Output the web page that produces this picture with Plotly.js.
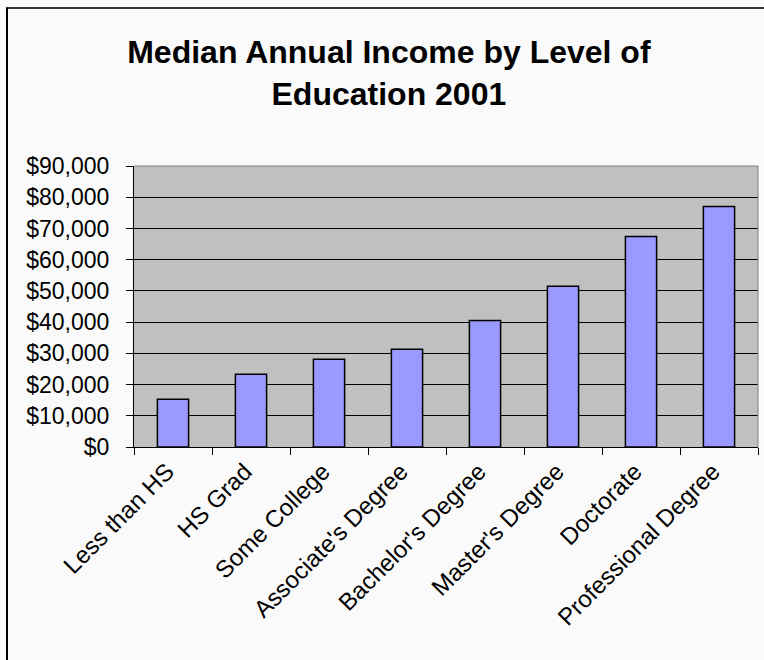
<!DOCTYPE html>
<html>
<head>
<meta charset="utf-8">
<script src="https://cdn.plot.ly/plotly-3.0.1.min.js"></script>
<style>
  html, body { margin: 0; padding: 0; background: #FAFAFA; }
  #wrap { position: relative; width: 764px; height: 660px; overflow: hidden; }
  #chart { position: absolute; left: 0; top: 0; width: 764px; height: 660px; }
  #frame { position: absolute; left: 6px; top: 7px; width: 800px; height: 700px;
           border-left: 2px solid #000; border-top: 2px solid #333; pointer-events: none; }
</style>
</head>
<body>
<div id="wrap">
  <div id="chart"></div>
  <div id="frame"></div>
</div>
<script>
const categories = ["Less than HS", "HS Grad", "Some College", "Associate's Degree",
                    "Bachelor's Degree", "Master's Degree", "Doctorate", "Professional Degree"];
const medianIncome = [15300, 23300, 28100, 31300, 40500, 51500, 67400, 77000];
const yTickVals = [0, 10000, 20000, 30000, 40000, 50000, 60000, 70000, 80000, 90000];
const yTickText = ["$0", "$10,000", "$20,000", "$30,000", "$40,000", "$50,000",
                   "$60,000", "$70,000", "$80,000", "$90,000"];
const chartTitle = "Median Annual Income by Level of<br>Education 2001";

const trace = {
  type: "bar",
  x: categories,
  y: medianIncome,
  marker: { color: "#9999FF", line: { color: "#000000", width: 1.5 } },
  hoverinfo: "none"
};

const layout = {
  width: 764,
  height: 660,
  paper_bgcolor: "#FAFAFA",
  plot_bgcolor: "#C0C0C0",
  margin: { l: 134, r: 6, t: 166, b: 213 },
  bargap: 0.6,
  showlegend: false,
  font: { family: "Liberation Sans, Arial, sans-serif", color: "#000000" },
  title: {
    text: chartTitle,
    font: { family: "Liberation Sans, Arial, sans-serif", size: 32, color: "#000000", weight: "bold" },
    xref: "container", x: 0.509, xanchor: "center",
    yref: "container", y: 1 - 63 / 660, yanchor: "top"
  },
  xaxis: {
    type: "category",
    tickangle: -45,
    ticks: "outside",
    tickson: "boundaries",
    ticklen: 7,
    tickcolor: "#000000",
    showline: true,
    linecolor: "#000000",
    linewidth: 1,
    showgrid: false,
    ticklabelstandoff: 0,
    ticklabelshift: -6,
    tickfont: { size: 24, color: "#000000" },
    fixedrange: true
  },
  yaxis: {
    range: [0, 90000],
    tickvals: yTickVals,
    ticktext: yTickText,
    ticks: "outside",
    ticklen: 7,
    tickcolor: "#000000",
    showline: true,
    linecolor: "#000000",
    linewidth: 1,
    showgrid: true,
    gridcolor: "#000000",
    gridwidth: 1,
    zeroline: false,
    ticklabelstandoff: 12,
    tickfont: { size: 23, color: "#000000" },
    fixedrange: true
  },
  shapes: [
    { type: "line", xref: "paper", yref: "paper", x0: 0, x1: 1, y0: 1, y1: 1,
      line: { color: "#808080", width: 1 } },
    { type: "line", xref: "paper", yref: "paper", x0: 1, x1: 1, y0: 0, y1: 1,
      line: { color: "#808080", width: 1 } }
  ]
};

Plotly.newPlot("chart", [trace], layout, { displayModeBar: false, staticPlot: true });
</script>
</body>
</html>
